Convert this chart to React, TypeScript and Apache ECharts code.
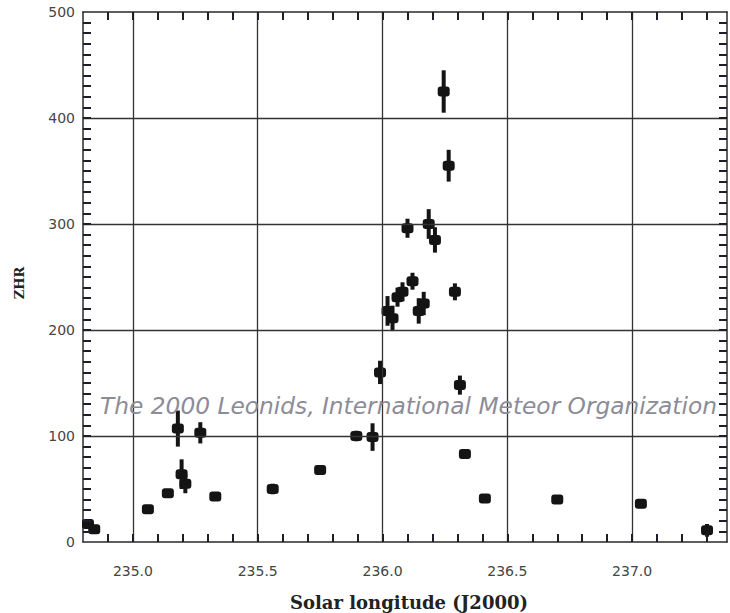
import React, { useEffect, useRef } from "react";
import * as echarts from "echarts";

const solarLon = [234.82, 234.845, 235.06, 235.14, 235.18, 235.195, 235.21, 235.27, 235.33, 235.56, 235.75, 235.895, 235.96, 235.99, 236.02, 236.04, 236.06, 236.08, 236.10, 236.12, 236.145, 236.165, 236.185, 236.21, 236.245, 236.265, 236.29, 236.31, 236.33, 236.41, 236.70, 237.035, 237.30];
const zhr = [17, 12, 31, 46, 107, 64, 55, 103, 43, 50, 68, 100, 99, 160, 218, 211, 231, 236, 296, 246, 218, 225, 300, 285, 425, 355, 236, 148, 83, 41, 40, 36, 11];
const zhrErr = [4, 4, 4, 4, 17, 14, 9, 10, 4, 5, 4, 5, 13, 11, 14, 12, 9, 9, 9, 8, 12, 11, 14, 12, 20, 15, 8, 9, 3, 3, 3, 4, 6];

const xGridValues = [235.0, 235.5, 236.0, 236.5, 237.0];
const yGridValues = [100, 200, 300, 400];

const X_MIN = 234.8;
const X_MAX = 237.38;
const Y_MIN = 0;
const Y_MAX = 500;
const X_MINOR_STEP = 0.1;
const Y_MINOR_STEP = 10;

const labelFont = "DejaVu Sans";
const TICK_COLOR = "#1e1e2a";
const TL = 8;

export default function App() {
  const ref = useRef<HTMLDivElement>(null);
  useEffect(() => {
    if (!ref.current) return;
    const chart = echarts.init(ref.current, undefined, { renderer: "svg" });
    const xFmt = (v: number) =>
      Math.abs(v * 2 - Math.round(v * 2)) < 1e-6 ? v.toFixed(1) : "";
    const yFmt = (v: number) =>
      Math.abs(v / 100 - Math.round(v / 100)) < 1e-6 ? String(Math.round(v)) : "";
    const mkLine = () => ({ show: true, onZero: false, lineStyle: { color: "#2a2a2a", width: 1.5 } });
    const points = solarLon.map((x, i) => [x, zhr[i], zhrErr[i]]);

    const xTickVals: number[] = [];
    for (let k = Math.ceil(X_MIN / X_MINOR_STEP + 1e-6); k * X_MINOR_STEP < X_MAX - 1e-6; k++) {
      xTickVals.push(Math.round(k * X_MINOR_STEP * 10) / 10);
    }
    const yTickVals: number[] = [];
    for (let k = 1; k * Y_MINOR_STEP < Y_MAX; k++) yTickVals.push(k * Y_MINOR_STEP);

    const baseOption: any = {
      animation: false,
      backgroundColor: "#ffffff",
      grid: { left: 83, right: 0, top: 12, bottom: 71 },
      xAxis: [
        {
          type: "value", min: X_MIN, max: X_MAX, interval: 0.1, position: "bottom",
          axisLine: mkLine(), axisTick: { show: false },
          axisLabel: { formatter: xFmt, color: "#444", fontSize: 14, fontFamily: labelFont, margin: 22 },
          splitLine: { show: false },
        },
        {
          type: "value", min: X_MIN, max: X_MAX, interval: 0.1, position: "top",
          axisLine: mkLine(), axisTick: { show: false }, axisLabel: { show: false }, splitLine: { show: false },
        },
      ],
      yAxis: [
        {
          type: "value", min: Y_MIN, max: Y_MAX, interval: 10, position: "left",
          axisLine: mkLine(), axisTick: { show: false },
          axisLabel: { formatter: yFmt, color: "#444", fontSize: 14, fontFamily: labelFont, margin: 8 },
          splitLine: { show: false },
        },
        {
          type: "value", min: Y_MIN, max: Y_MAX, interval: 10, position: "right",
          axisLine: mkLine(), axisTick: { show: false }, axisLabel: { show: false }, splitLine: { show: false },
        },
      ],
      series: [
        {
          id: "grid",
          type: "line",
          data: [[X_MIN, Y_MIN]],
          symbol: "none",
          lineStyle: { opacity: 0 },
          z: 1,
          silent: true,
          markLine: {
            silent: true,
            symbol: ["none", "none"],
            label: { show: false },
            lineStyle: { color: "#333", width: 1.3, type: "solid" },
            data: [
              ...xGridValues.map((v) => ({ xAxis: v })),
              ...yGridValues.map((v) => ({ yAxis: v })),
            ],
          },
        },
        {
          id: "points",
          type: "custom",
          z: 3,
          data: points,
          encode: { x: 0, y: 1 },
          renderItem: (params: any, api: any) => {
            const x = api.value(0);
            const y = api.value(1);
            const e = api.value(2);
            const top = api.coord([x, y + e]);
            const bot = api.coord([x, y - e]);
            const c = api.coord([x, y]);
            return {
              type: "group",
              children: [
                {
                  type: "line",
                  shape: { x1: top[0], y1: top[1], x2: bot[0], y2: bot[1] },
                  style: { stroke: "#141414", lineWidth: 4 },
                },
                {
                  type: "rect",
                  shape: { x: c[0] - 6, y: c[1] - 5, width: 12, height: 10, r: 3 },
                  style: { fill: "#141414" },
                },
              ],
            };
          },
        },
      ],
      graphic: [
        {
          type: "text", x: 100, y: 405, z: 10,
          style: {
            text: "The 2000 Leonids, International Meteor Organization",
            font: "italic 23.3px 'DejaVu Sans'",
            fill: "#8c8c98",
            textVerticalAlign: "middle",
          },
        },
        {
          type: "text", x: 409, y: 602,
          style: {
            text: "Solar longitude (J2000)",
            font: "bold 18px 'DejaVu Serif'",
            fill: "#222",
            textAlign: "center",
            textVerticalAlign: "middle",
          },
        },
        {
          type: "text", x: 19, y: 283, rotation: Math.PI / 2,
          style: {
            text: "ZHR",
            font: "bold 13px 'DejaVu Serif'",
            fill: "#222",
            textAlign: "center",
            textVerticalAlign: "middle",
          },
        },
      ],
    };
    chart.setOption(baseOption);

    // Tick length expressed in data units, measured from the library's own scales.
    const p0 = chart.convertToPixel({ xAxisIndex: 0, yAxisIndex: 0 }, [X_MIN, Y_MIN]) as number[];
    const d = chart.convertFromPixel({ xAxisIndex: 0, yAxisIndex: 0 }, [p0[0] + TL, p0[1] - TL]) as number[];
    const dx = d[0] - X_MIN;
    const dy = d[1] - Y_MIN;

    const seg = (a: number[], b: number[]) => [{ coord: a }, { coord: b }];
    const tickData = [
      ...xTickVals.map((v) => seg([v, Y_MIN], [v, Y_MIN + dy])),
      ...xTickVals.map((v) => seg([v, Y_MAX], [v, Y_MAX - dy])),
      ...yTickVals.map((v) => seg([X_MIN, v], [X_MIN + dx, v])),
      ...yTickVals.map((v) => seg([X_MAX, v], [X_MAX - dx, v])),
    ];

    chart.setOption({
      series: [
        {
          id: "ticks",
          type: "line",
          data: [[X_MIN, Y_MIN]],
          symbol: "none",
          lineStyle: { opacity: 0 },
          z: 4,
          silent: true,
          markLine: {
            silent: true,
            symbol: ["none", "none"],
            label: { show: false },
            lineStyle: { color: TICK_COLOR, width: 2, type: "solid" },
            data: tickData,
          },
        },
      ],
    });
    return () => chart.dispose();
  }, []);
  return (
    <div
      ref={ref}
      style={{ position: "absolute", left: 0, top: 0, width: 730, height: 613, background: "#fff" }}
    />
  );
}
